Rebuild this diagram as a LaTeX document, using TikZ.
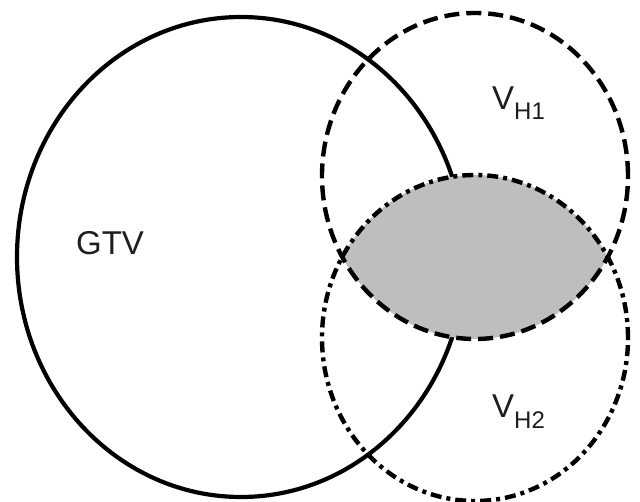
\documentclass[tikz,border=0pt]{standalone}
\usepackage{fontspec}
\setmainfont{Liberation Sans}
\definecolor{lensgray}{RGB}{190,190,190}
\definecolor{txtgray}{RGB}{30,30,30}
\tikzset{
  gtvline/.style={line width=4.2pt},
  hone/.style={line width=4.4pt, dash pattern=on 15pt off 7pt},
  htwo/.style={line width=4.4pt, dash pattern=on 11pt off 5pt on 4pt off 5pt},
  lbl/.style={inner sep=0pt, text=txtgray, font=\fontsize{33}{33}\selectfont},
}
\newcommand{\subtxt}[1]{{\fontsize{24}{24}\selectfont\raisebox{-10pt}{#1}}}
\begin{document}
\begin{tikzpicture}[x=1pt,y=-1pt]
\useasboundingbox (0,0) rectangle (640,502);
% GTV
\draw[gtvline] (241,257) ellipse [x radius=224pt, y radius=240pt];
% lens (intersection of VH1 and VH2)
\begin{scope}
  \clip (475,176) ellipse [x radius=153pt, y radius=163pt];
  \fill[lensgray] (475,338) ellipse [x radius=153pt, y radius=163pt];
\end{scope}
% VH1 and VH2
\draw[hone] (475,176) ellipse [x radius=153pt, y radius=163pt];
\draw[htwo] (475,338) ellipse [x radius=153pt, y radius=163pt];
% labels
\node[lbl] (gtv) at (110,243.5) {GTV};
\node[lbl, anchor=base west] (vh1) at (492,110) {V\subtxt{H1}};
\node[lbl, anchor=base west] (vh2) at (492,418) {V\subtxt{H2}};
\end{tikzpicture}
\end{document}
